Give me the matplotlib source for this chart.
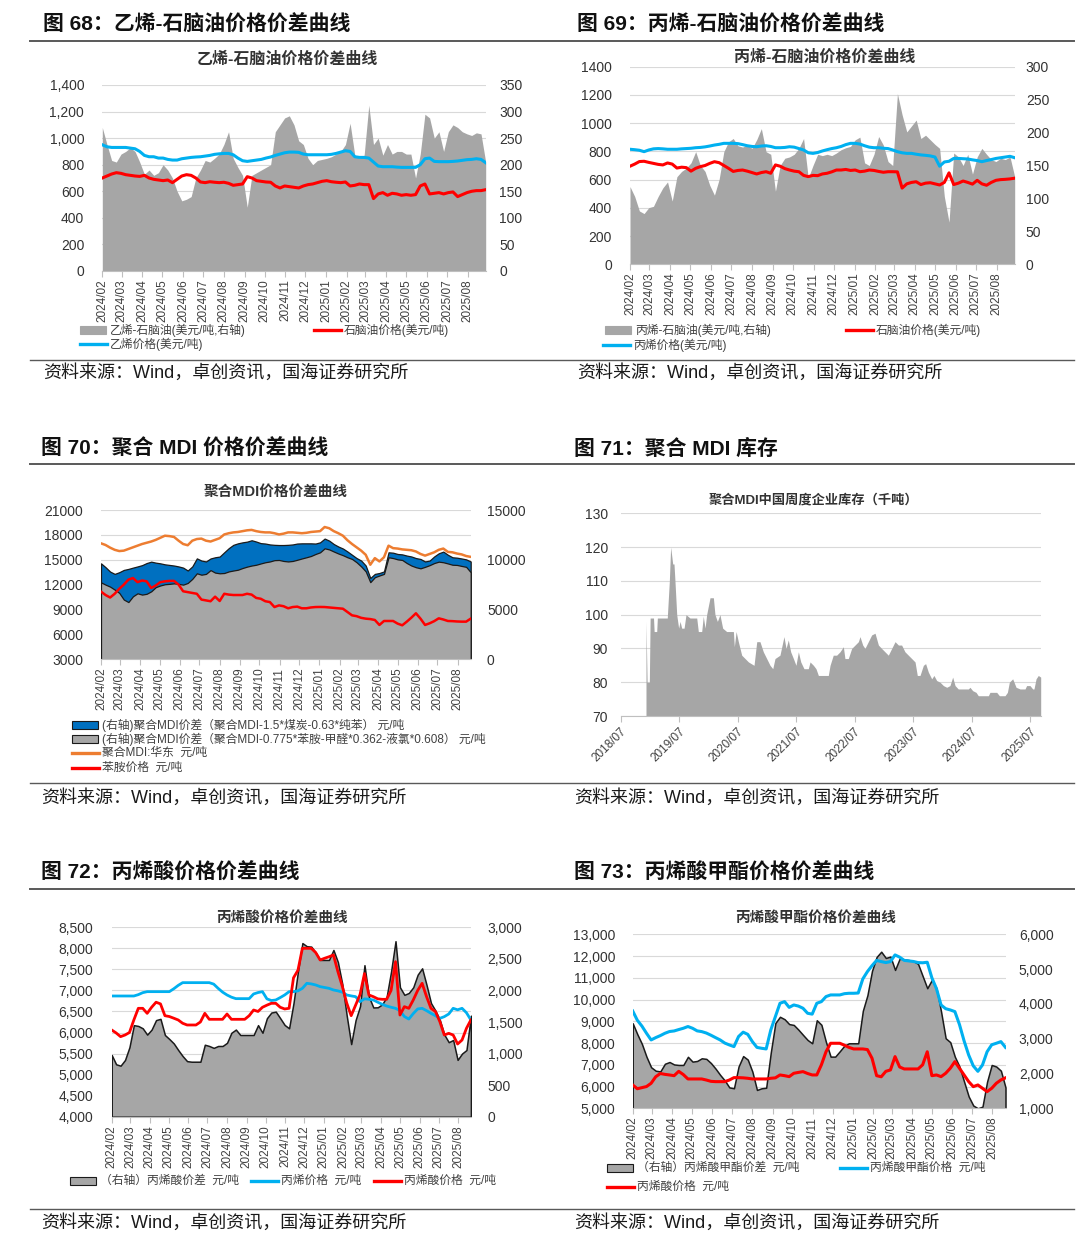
import matplotlib
matplotlib.use("Agg")
import matplotlib.pyplot as plt
from matplotlib.lines import Line2D
from matplotlib.patches import Rectangle
import numpy as np
import pandas as pd

plt.rcParams['font.family'] = ['Liberation Sans', 'Noto Sans CJK SC', 'DejaVu Sans']

W, H = 1080, 1243
GRAY = '#a6a6a6'
SKY = '#00b0f0'
RED = '#ff0000'
ORANGE = '#ed7d31'
NAVY = '#0070c0'
GRID = '#d9d9d9'

# ---- 图68 乙烯-石脑油 (weekly from 2024-02-01) ----
eth_spread = [270, 238, 208, 205, 220, 225, 232, 225, 205, 182,
              190, 180, 185, 200, 190, 175, 150, 132, 135, 140,
              175, 190, 208, 205, 212, 220, 238, 262, 212, 195,
              180, 120, 180, 185, 190, 195, 200, 262, 275, 288,
              292, 275, 245, 238, 212, 200, 208, 210, 212, 215,
              220, 225, 238, 278, 218, 212, 218, 312, 238, 250,
              218, 238, 220, 225, 225, 220, 220, 175, 220, 295,
              288, 250, 262, 225, 262, 275, 270, 262, 258, 255,
              260, 258, 205]
eth_price = [950, 935, 930, 930, 930, 930, 925, 920, 900, 870,
             860, 860, 850, 850, 840, 835, 835, 845, 850, 855,
             858, 860, 865, 870, 878, 882, 885, 885, 875, 850,
             830, 825, 830, 835, 840, 850, 858, 870, 880, 890,
             895, 895, 893, 880, 875, 875, 875, 875, 875, 878,
             885, 895, 905, 900, 860, 855, 855, 850, 820, 790,
             785, 785, 785, 782, 780, 780, 780, 780, 800, 845,
             850, 825, 823, 823, 823, 825, 828, 833, 838, 840,
             845, 840, 815]
naphtha_68 = [700, 715, 730, 740, 735, 725, 720, 715, 712, 720,
              700, 690, 685, 680, 685, 665, 690, 715, 725, 720,
              700, 670, 665, 672, 668, 665, 668, 660, 645, 650,
              655, 710, 700, 680, 675, 670, 668, 640, 625, 640,
              635, 630, 625, 640, 650, 655, 665, 675, 680, 672,
              668, 665, 670, 640, 645, 655, 650, 650, 545, 580,
              590, 570, 585, 580, 570, 575, 570, 575, 640, 655,
              580, 585, 590, 580, 590, 595, 560, 575, 590, 600,
              605, 605, 612]

# ---- 图69 丙烯-石脑油 ----
pro_spread = [118, 103, 81, 77, 86, 88, 103, 116, 125, 96,
              133, 141, 146, 154, 171, 150, 141, 120, 105, 129,
              171, 186, 191, 180, 178, 181, 176, 189, 206, 171,
              167, 111, 150, 161, 163, 167, 176, 191, 131, 150,
              167, 165, 167, 165, 169, 174, 177, 179, 189, 193,
              154, 150, 167, 194, 181, 156, 150, 259, 227, 201,
              210, 219, 191, 196, 189, 182, 176, 103, 64, 169,
              163, 150, 167, 137, 163, 176, 167, 159, 156, 161,
              159, 163, 133]
pro_price = [815, 812, 808, 798, 810, 818, 820, 818, 815, 815,
             815, 818, 820, 822, 826, 828, 832, 838, 845, 850,
             857, 857, 857, 855, 848, 840, 835, 833, 838, 840,
             835, 826, 826, 828, 833, 830, 820, 810, 790, 786,
             792, 803, 812, 820, 826, 835, 848, 857, 857, 852,
             840, 830, 826, 826, 822, 820, 810, 798, 790, 786,
             786, 780, 775, 772, 768, 760, 695, 725, 730, 750,
             750, 748, 746, 740, 735, 727, 735, 742, 750, 755,
             760, 765, 755]
naphtha_69 = [695, 710, 728, 730, 722, 715, 708, 704, 718, 710,
              682, 688, 685, 660, 680, 692, 700, 715, 727, 720,
              700, 680, 658, 665, 668, 660, 650, 640, 650, 656,
              645, 704, 695, 678, 668, 660, 656, 630, 621, 630,
              628, 640, 645, 655, 668, 668, 672, 665, 668, 656,
              660, 668, 665, 658, 652, 656, 656, 655, 540, 570,
              580, 585, 565, 575, 578, 570, 562, 580, 648, 565,
              575, 590, 580, 568, 595, 570, 560, 580, 595, 600,
              602, 605, 610]

# ---- 图70 聚合MDI ----
mdi_price = [16980, 16780, 16460, 16200, 16050, 16100, 16300, 16500, 16700, 16900,
             17050, 17200, 17400, 17650, 17900, 17850, 17750, 17300, 16900, 16750,
             17300, 17500, 17550, 17300, 17200, 17400, 17600, 18050, 18200, 18300,
             18350, 18450, 18550, 18600, 18450, 18350, 18300, 18300, 18200, 18050,
             18150, 18300, 18300, 18250, 18200, 18250, 18350, 18400, 18450, 18950,
             18800, 18450, 18200, 17900, 17350, 16900, 16500, 16100, 15600, 14400,
             15200, 14800, 15300, 16700, 16400, 16350, 16250, 16200, 16150, 16000,
             15700, 15500, 15700, 15900, 16200, 16350, 15950, 15900, 15750, 15650,
             15450, 15350]
mdi_spread_coal = [9640, 9250, 8810, 8580, 8750, 8980, 9080, 9210, 9330, 9460,
                   9670, 9810, 9710, 9640, 9540, 9480, 9420, 9330, 9210, 8920,
                   9330, 10140, 9920, 9830, 10130, 10250, 10320, 10750, 11170, 11500,
                   11650, 11750, 11820, 11960, 11830, 11670, 11630, 11540, 11500, 11480,
                   11480, 11500, 11540, 11630, 11650, 11650, 11650, 11630, 11750, 12130,
                   11920, 11580, 11330, 11130, 10830, 10500, 10170, 9920, 9420, 8170,
                   8580, 8670, 8830, 10750, 10710, 10580, 10540, 10420, 10330, 10170,
                   10080, 9830, 9920, 10330, 10650, 10820, 10500, 10250, 10210, 10130,
                   10040, 9830]
mdi_spread_aniline = [7730, 7500, 7300, 7000, 6670, 6000, 5750, 6330, 6630, 6500,
                      6580, 6830, 7250, 7420, 7540, 7580, 7630, 7580, 7500, 7670,
                      8080, 8640, 8500, 8580, 8960, 8710, 8640, 8670, 8830, 8920,
                      9000, 9170, 9310, 9420, 9500, 9630, 9750, 9830, 9960, 9980,
                      9880, 9830, 9880, 10000, 10130, 10250, 10380, 10580, 10750, 11150,
                      11040, 10830, 10630, 10460, 10250, 10080, 9750, 9330, 8830, 7750,
                      8250, 8420, 8580, 10250, 10170, 10040, 9980, 9670, 9420, 9250,
                      9140, 9290, 9460, 9670, 9810, 9750, 9630, 9500, 9480, 9380,
                      9290, 8750]
aniline_price = [11160, 10750, 10450, 10900, 11500, 12000, 12600, 12800, 12300, 12500,
                 12400, 11600, 11900, 12300, 12400, 12450, 12450, 12000, 11200, 11100,
                 11000, 10900, 10200, 10100, 10000, 10550, 10030, 10900, 10800, 10750,
                 10750, 10750, 10900, 10800, 10400, 10300, 10000, 9900, 9300, 9500,
                 9400, 9150, 9300, 9350, 9150, 9150, 9250, 9300, 9310, 9300,
                 9250, 9200, 9150, 9100, 8700, 8300, 8200, 8000, 7900, 7850,
                 7740, 7140, 7620, 7620, 7620, 7300, 7100, 7540, 8020, 8550,
                 7900, 7140, 7340, 7600, 7940, 7800, 7620, 7600, 7560, 7540,
                 7540, 7900]

# ---- 图71 聚合MDI库存 (千吨) ----
inv_dates = ['2018-12-06', '2018-12-13', '2018-12-27', '2019-01-01', '2019-01-22', '2019-01-26',
             '2019-02-11', '2019-02-15', '2019-04-18', '2019-05-01', '2019-05-09', '2019-05-22',
             '2019-05-30', '2019-06-05', '2019-06-16', '2019-06-28', '2019-07-07', '2019-07-17',
             '2019-08-01', '2019-08-13', '2019-09-07', '2019-10-19', '2019-10-29', '2019-11-19',
             '2019-11-29', '2019-12-10', '2019-12-20', '2020-01-10', '2020-01-31', '2020-02-10',
             '2020-02-25', '2020-03-12', '2020-03-29', '2020-04-23', '2020-06-04', '2020-06-10',
             '2020-06-21', '2020-07-05', '2020-07-26', '2020-08-16', '2020-09-06', '2020-10-11',
             '2020-10-28', '2020-11-17', '2020-12-08', '2020-12-29', '2021-01-19', '2021-02-05',
             '2021-02-19', '2021-03-22', '2021-04-16', '2021-04-29', '2021-05-13', '2021-05-28',
             '2021-06-14', '2021-06-30', '2021-07-15', '2021-07-30', '2021-08-19', '2021-09-15',
             '2021-09-26', '2021-10-17', '2021-11-02', '2021-11-17', '2022-01-18', '2022-01-29',
             '2022-02-18', '2022-03-11', '2022-04-01', '2022-04-22', '2022-05-02', '2022-05-23',
             '2022-06-13', '2022-07-04', '2022-07-25', '2022-08-04', '2022-08-21', '2022-09-04',
             '2022-09-25', '2022-10-16', '2022-11-06', '2022-11-27', '2022-12-17', '2023-01-07',
             '2023-01-28', '2023-02-18', '2023-03-11', '2023-04-01', '2023-04-21', '2023-05-12',
             '2023-06-02', '2023-06-23', '2023-07-14', '2023-07-28', '2023-08-14', '2023-09-04',
             '2023-09-18', '2023-10-05', '2023-10-26', '2023-11-09', '2023-11-26', '2023-12-17',
             '2024-01-07', '2024-01-28', '2024-02-17', '2024-03-05', '2024-03-20', '2024-04-09',
             '2024-05-11', '2024-06-11', '2024-06-21', '2024-07-08', '2024-07-29', '2024-08-12',
             '2024-09-13', '2024-10-14', '2024-10-24', '2024-12-05', '2024-12-22', '2025-01-26',
             '2025-02-10', '2025-02-22', '2025-03-15', '2025-04-05', '2025-04-30', '2025-05-31',
             '2025-06-10', '2025-07-01', '2025-07-18', '2025-07-26', '2025-08-08', '2025-08-22',
             '2025-09-06']
inv_values = [98, 80, 80, 99, 99, 95,
              95, 99, 99, 110, 120, 115,
              115, 110, 100, 96, 98, 96,
              96, 100, 99, 99, 95, 95,
              99.5, 96, 100, 105, 105, 100,
              98, 100, 96, 95, 95, 90.5,
              95, 92, 88, 87, 86, 85,
              92, 92, 89, 87, 85, 84,
              87, 88, 93.5, 90, 92.5, 89,
              87, 85, 89, 86, 84, 84,
              86, 85, 84, 82, 82, 85,
              88, 88, 89, 90.5, 87, 87,
              90, 91, 92, 93.5, 91, 90,
              92, 94, 94.5, 91, 90, 89,
              88, 90, 92, 91, 91, 89,
              88, 87, 86, 82, 82, 85,
              85.5, 83, 81, 82, 80.5, 80,
              79, 78.5, 79, 81.5, 79, 78,
              78, 78, 78.5, 77.5, 77, 76,
              76, 76, 77, 77, 76, 76,
              77, 80, 81, 78.5, 78, 78,
              79, 79, 78, 78, 81, 82,
              81.5]

# ---- 图72 丙烯酸 ----
aa_spread = [977, 830, 808, 898, 1100, 1450, 1437, 1400, 1300, 1380,
             1530, 1550, 1294, 1230, 1160, 1056, 960, 880, 871, 871,
             871, 1140, 1120, 1090, 1120, 1120, 1170, 1330, 1380, 1294,
             1294, 1294, 1294, 1450, 1330, 1560, 1650, 1664, 1560, 1453,
             1400, 1800, 2300, 2750, 2700, 2694, 2600, 2483, 2483, 2483,
             2641, 2450, 2100, 1600, 1150, 1530, 1750, 2400, 1900, 1730,
             1733, 1780, 1900, 2300, 2780, 2050, 1930, 1960, 2050, 2250,
             2350, 2086, 1800, 1680, 1532, 1300, 1180, 1215, 900, 1000,
             1056, 1600]
aa_propylene = [6868, 6868, 6868, 6868, 6868, 6868, 6900, 6947, 6971, 6971,
                6971, 6971, 6971, 6971, 7040, 7120, 7185, 7185, 7185, 7185,
                7185, 7185, 7185, 7150, 7050, 6960, 6892, 6840, 6805, 6805,
                6805, 6805, 6916, 6950, 6971, 6800, 6760, 6773, 6830, 6892,
                6971, 6971, 6990, 7050, 7169, 7155, 7130, 7090, 7070, 7050,
                7011, 6990, 6960, 6892, 6870, 6852, 6733, 6800, 6790, 6773,
                6720, 6670, 6630, 6600, 6575, 6520, 6380, 6320, 6450, 6560,
                6575, 6520, 6456, 6400, 6337, 6377, 6440, 6575, 6540, 6575,
                6470, 6298]
aa_price = [6060, 5990, 5902, 5941, 6000, 6300, 6575, 6575, 6456, 6600,
            6720, 6680, 6400, 6380, 6340, 6298, 6220, 6179, 6179, 6179,
            6250, 6456, 6314, 6314, 6314, 6314, 6440, 6314, 6314, 6314,
            6314, 6400, 6535, 6500, 6600, 6650, 6694, 6694, 6600, 6560,
            6575, 7300, 7480, 8001, 8001, 8001, 7900, 7724, 7764, 7800,
            7843, 7450, 7100, 6700, 6400, 6650, 6900, 7400, 6892, 6852,
            6800, 6789, 6789, 7000, 7684, 6416, 6615, 6575, 6773, 7000,
            7169, 6852, 6575, 6500, 6258, 5941, 5981, 5941, 5727, 5822,
            6100, 6300]

# ---- 图73 丙烯酸甲酯 ----
ma_spread = [3443, 3130, 2850, 2480, 2180, 2080, 2060, 2280, 2330, 2260,
             2245, 2245, 2480, 2341, 2360, 2437, 2420, 2300, 2140, 1960,
             1800, 1600, 1575, 2200, 2500, 2400, 2054, 1527, 1575, 1590,
             2600, 3450, 3630, 3560, 3420, 3395, 3260, 3110, 2964, 2868,
             3530, 3400, 2900, 2485, 2485, 2640, 2800, 2868, 2868, 2868,
             3800, 4250, 4950, 5350, 5500, 5320, 5360, 4976, 5300, 5280,
             5260, 5230, 5150, 4800, 4450, 4690, 4450, 3780, 3012, 2900,
             2480, 2200, 1766, 1340, 1080, 1000, 1048, 1766, 2245, 2200,
             2080, 1600]
ma_price = [9476, 9050, 8780, 8450, 8143, 8250, 8342, 8450, 8530, 8556,
            8620, 8680, 8760, 8680, 8560, 8526, 8460, 8360, 8250, 8143,
            8000, 7913, 7836, 8300, 8500, 8400, 8066, 7800, 7760, 7729,
            8600, 9216, 9829, 9905, 9640, 9752, 9700, 9600, 9369, 9330,
            9829, 9905, 10136, 10212, 10212, 10212, 10270, 10289, 10289, 10300,
            10950, 11286, 11560, 11800, 11745, 11700, 11745, 12052, 11950, 11800,
            11776, 11750, 11700, 11690, 11715, 11000, 10500, 9750, 9580, 9522,
            9446, 8850, 8100, 7450, 6950, 6700, 6993, 7600, 7920, 7990,
            8066, 7800]
ma_aa_price = [6073, 5900, 5950, 6000, 6150, 6450, 6600, 6560, 6533, 6500,
               6700, 6550, 6349, 6349, 6349, 6349, 6300, 6240, 6226, 6226,
               6226, 6300, 6410, 6410, 6400, 6380, 6349, 6349, 6349, 6349,
               6380, 6400, 6533, 6500, 6456, 6610, 6650, 6686, 6600, 6533,
               6533, 7000, 7600, 7990, 7990, 7990, 7900, 7800, 7729, 7729,
               7729, 7700, 7300, 6500, 6450, 6700, 6763, 7376, 6900, 6809,
               6809, 6809, 6809, 7000, 7600, 6500, 6533, 6456, 6610, 6840,
               7146, 6840, 6533, 6226, 5996, 6073, 5920, 5767, 5920, 6150,
               6303, 6400]

month_ticks = pd.date_range('2024-02-01', '2025-08-01', freq='MS')
month_labels = list(month_ticks.strftime('%Y/%m'))


def weeks(values):
    return pd.date_range('2024-02-01', periods=len(values), freq='7D')


fig = plt.figure(figsize=(W / 100, H / 100), dpi=100)


def box(l, t, r, b):
    return [l / W, 1 - b / H, (r - l) / W, (b - t) / H]


def ftext(x, y, s, **kw):
    kw.setdefault('va', 'center')
    fig.text(x / W, 1 - y / H, s, **kw)


def rule(y, x0, x1, lw=1.2):
    fig.add_artist(Line2D([x0 / W, x1 / W], [1 - y / H, 1 - y / H], color='#595959', lw=lw))


def key(kind, x, y, color, label, edge=None):
    if kind == 'patch':
        fig.add_artist(Rectangle((x / W, 1 - (y + 4) / H), 26 / W, 8 / H,
                                 facecolor=color, edgecolor=edge or color, lw=0.8))
    else:
        fig.add_artist(Line2D([x / W, (x + 27) / W], [1 - y / H] * 2, color=color, lw=2.4))
    ftext(x + 30, y, label, fontsize=8.5, color='#404040')


def dual_panel(pos, x, llim, lticks, rlim, rticks, ngrid, lfmt, rfmt, lpad, rpad):
    ax = fig.add_axes(box(*pos))
    ax2 = ax.twinx()
    ax.set_zorder(3)
    ax2.set_zorder(2)
    ax.patch.set_visible(False)
    for a in (ax, ax2):
        for s in a.spines.values():
            s.set_visible(False)
    ax.spines['bottom'].set_visible(True)
    ax.spines['bottom'].set_color('#bfbfbf')
    ax.set_xlim(x[0], x[-1])
    ax.set_ylim(*llim)
    ax2.set_ylim(*rlim)
    for v in np.linspace(rlim[0], rlim[1], ngrid):
        ax2.axhline(v, color=GRID, lw=0.8, zorder=0)
    ax.set_xticks(month_ticks)
    ax.set_xticklabels(month_labels, rotation=90, fontsize=8.5, color='#404040')
    ax.tick_params(axis='x', length=4, color='#bfbfbf', pad=2)
    ax.set_yticks(lticks)
    ax.set_yticklabels([lfmt.format(v) for v in lticks])
    ax.tick_params(axis='y', length=0, pad=lpad, labelsize=10, labelcolor='#333333')
    ax2.set_yticks(rticks)
    ax2.set_yticklabels([rfmt.format(v) for v in rticks])
    ax2.tick_params(axis='y', length=0, pad=rpad, labelsize=10, labelcolor='#333333')
    return ax, ax2


# 图68
x = weeks(eth_spread)
ax, ax2 = dual_panel((102.3, 85, 485.7, 271), x, (0, 1400), range(0, 1401, 200),
                     (0, 350), range(0, 351, 50), 8, '{:,.0f}', '{:.0f}', 13, 9.6)
ax2.fill_between(x, eth_spread, color=GRAY, lw=0, zorder=1)
ax.plot(weeks(eth_price), eth_price, color=SKY, lw=2.2)
ax.plot(weeks(naphtha_68), naphtha_68, color=RED, lw=2.2)

# 图69
x = weeks(pro_spread)
ax, ax2 = dual_panel((630, 66.7, 1014.7, 264.3), x, (0, 1400), range(0, 1401, 200),
                     (0, 300), range(0, 301, 50), 8, '{:.0f}', '{:.0f}', 13, 8)
ax2.fill_between(x, pro_spread, color=GRAY, lw=0, zorder=1)
ax.plot(weeks(pro_price), pro_price, color=SKY, lw=2.2)
ax.plot(weeks(naphtha_69), naphtha_69, color=RED, lw=2.2)

# 图70
x = weeks(mdi_price)
ax, ax2 = dual_panel((101, 510, 470.7, 659.3), x, (3000, 21000), range(3000, 21001, 3000),
                     (0, 15000), range(0, 15001, 5000), 7, '{:.0f}', '{:.0f}', 13, 11.7)
ax2.fill_between(weeks(mdi_spread_coal), mdi_spread_coal, facecolor=NAVY,
                 edgecolor='#1a1a1a', lw=0.9, zorder=1)
ax2.fill_between(weeks(mdi_spread_aniline), mdi_spread_aniline, facecolor=GRAY,
                 edgecolor='#1a1a1a', lw=0.9, zorder=1.5)
ax.plot(x, mdi_price, color=ORANGE, lw=1.8)
ax.plot(weeks(aniline_price), aniline_price, color=RED, lw=1.8)

# 图71
inv_x = pd.to_datetime(inv_dates)
ax = fig.add_axes(box(620.7, 513.3, 1040.7, 716))
ax.fill_between(inv_x, inv_values, 70, color=GRAY, lw=0, zorder=2)
ax.set_ylim(70, 130)
ax.set_xlim(pd.Timestamp('2018-07-01'), inv_x[-1])
ax.set_yticks(range(70, 131, 10))
ax.yaxis.grid(True, color=GRID, lw=0.8)
ax.set_axisbelow(True)
year_ticks = pd.to_datetime([f'{y}-07-01' for y in range(2018, 2026)])
ax.set_xticks(year_ticks)
ax.set_xticklabels([f'{y}/07' for y in range(2018, 2026)], rotation=45, ha='right',
                   va='top', rotation_mode='anchor', fontsize=8.5, color='#404040')
for s in ax.spines.values():
    s.set_visible(False)
ax.spines['bottom'].set_visible(True)
ax.spines['bottom'].set_color('#bfbfbf')
ax.tick_params(axis='x', length=4, color='#bfbfbf', pad=3)
ax.tick_params(axis='y', length=0, pad=9, labelsize=10, labelcolor='#333333')

# 图72
x = weeks(aa_spread)
ax, ax2 = dual_panel((111.7, 927.3, 470.9, 1116.7), x, (4000, 8500), range(4000, 8501, 500),
                     (0, 3000), range(0, 3001, 500), 10, '{:,.0f}', '{:,.0f}', 13.5, 12)
ax2.fill_between(x, aa_spread, facecolor=GRAY, edgecolor='#1a1a1a', lw=1.1, zorder=1)
ax.plot(weeks(aa_propylene), aa_propylene, color=SKY, lw=2.0)
ax.plot(weeks(aa_price), aa_price, color=RED, lw=2.0)

# 图73
x = weeks(ma_spread)
ax, ax2 = dual_panel((632.7, 934.3, 1005.5, 1108.3), x, (5000, 13000), range(5000, 13001, 1000),
                     (1000, 6000), range(1000, 6001, 1000), 9, '{:,.0f}', '{:,.0f}', 12.7, 9.6)
ax2.fill_between(x, ma_spread, 1000, facecolor=GRAY, edgecolor='#1a1a1a', lw=1.1, zorder=1)
ax.plot(weeks(ma_price), ma_price, color=SKY, lw=2.2)
ax.plot(weeks(ma_aa_price), ma_aa_price, color=RED, lw=2.2)

# titles, rules, sources
titles = [(43, 25, '图 68：乙烯-石脑油价格价差曲线'), (577, 25, '图 69：丙烯-石脑油价格价差曲线'),
          (41, 449, '图 70：聚合 MDI 价格价差曲线'), (574, 449, '图 71：聚合 MDI 库存'),
          (41, 873, '图 72：丙烯酸价格价差曲线'), (574, 873, '图 73：丙烯酸甲酯价格价差曲线')]
for tx, ty, s in titles:
    ftext(tx, ty, s, fontsize=15, fontweight='bold', color='#111111')
    ftext(tx, ty + 348 if ty == 25 else ty + 349 if ty == 449 else ty + 350,
          '资料来源：Wind，卓创资讯，国海证券研究所', fontsize=13, color='#1a1a1a')

for y in (41, 464, 889):
    rule(y, 30, 1074, lw=1.4)
for y in (360, 783, 1209):
    rule(y, 30, 1074, lw=1.0)

inner = [(287, 59, '乙烯-石脑油价格价差曲线', 11.5), (825, 57, '丙烯-石脑油价格价差曲线', 11.5),
         (276, 492, '聚合MDI价格价差曲线', 10.5), (813, 500, '聚合MDI中国周度企业库存（千吨）', 9.5),
         (282, 918, '丙烯酸价格价差曲线', 10.5), (816, 918, '丙烯酸甲酯价格价差曲线', 10.5)]
for cx, cy, s, fs in inner:
    ftext(cx, cy, s, fontsize=fs, fontweight='bold', color='#333333', ha='center')

# legends
key('patch', 80, 330, GRAY, '乙烯-石脑油(美元/吨,右轴)')
key('line', 314, 330, RED, '石脑油价格(美元/吨)')
key('line', 80, 344, SKY, '乙烯价格(美元/吨)')

key('patch', 605, 330, GRAY, '丙烯-石脑油(美元/吨,右轴)')
key('line', 846, 330, RED, '石脑油价格(美元/吨)')
key('line', 603, 345, SKY, '丙烯价格(美元/吨)')

key('patch', 72, 725, NAVY, '(右轴)聚合MDI价差（聚合MDI-1.5*煤炭-0.63*纯苯） 元/吨', edge='#1a1a1a')
key('patch', 72, 739, GRAY, '(右轴)聚合MDI价差（聚合MDI-0.775*苯胺-甲醛*0.362-液氯*0.608） 元/吨', edge='#1a1a1a')
key('line', 72, 753, ORANGE, '聚合MDI:华东  元/吨')
key('line', 72, 768, RED, '苯胺价格  元/吨')

key('patch', 70, 1181, GRAY, '（右轴）丙烯酸价差  元/吨', edge='#1a1a1a')
key('line', 251, 1181, SKY, '丙烯价格  元/吨')
key('line', 374, 1181, RED, '丙烯酸价格  元/吨')

key('patch', 607, 1168, GRAY, '（右轴）丙烯酸甲酯价差  元/吨', edge='#1a1a1a')
key('line', 840, 1168, SKY, '丙烯酸甲酯价格  元/吨')
key('line', 607, 1187, RED, '丙烯酸价格  元/吨')

fig.savefig('out.png', dpi=100, facecolor='white')
